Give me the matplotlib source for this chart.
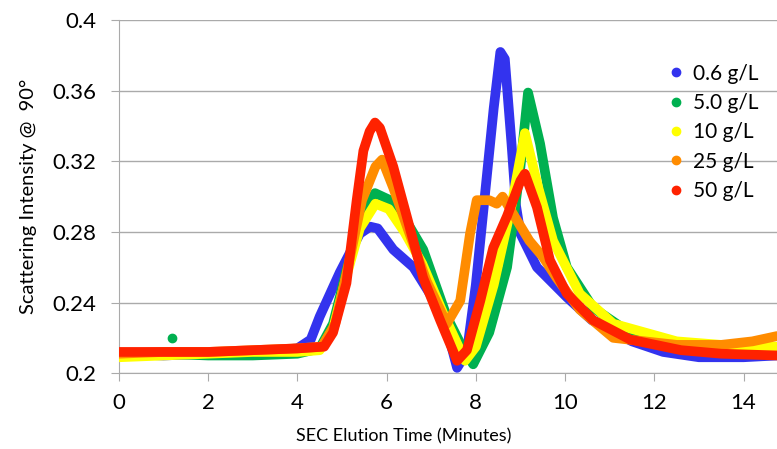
## Import Required Packages
import matplotlib
matplotlib.use('Agg')
import matplotlib.pyplot as plt

plt.rcParams['font.family'] = ['Lato', 'DejaVu Sans']

## Data (time in minutes, scattering intensity)
t_blue = [0, 1, 2, 3, 4.0, 4.3, 4.5, 4.95, 5.4, 5.63, 5.8, 6.15, 6.6, 6.97, 7.3, 7.58, 7.8, 8.0, 8.2, 8.4, 8.55, 8.65, 8.8, 8.9, 9.0, 9.37, 10.04, 10.6, 11.5, 12.2, 13, 14, 14.75]
i_blue = [0.211, 0.210, 0.211, 0.212, 0.214, 0.219, 0.232, 0.257, 0.279, 0.283, 0.282, 0.270, 0.260, 0.245, 0.230, 0.203, 0.212, 0.250, 0.300, 0.350, 0.382, 0.378, 0.330, 0.295, 0.279, 0.260, 0.243, 0.230, 0.218, 0.212, 0.209, 0.209, 0.210]

t_green = [0, 1, 2, 3, 4.0, 4.5, 4.8, 5.1, 5.4, 5.74, 6.08, 6.4, 6.82, 7.35, 7.65, 7.94, 8.3, 8.7, 9.0, 9.17, 9.44, 9.73, 10.04, 10.63, 11.5, 12.5, 13.5, 14.75]
i_green = [0.211, 0.211, 0.210, 0.210, 0.211, 0.214, 0.228, 0.258, 0.285, 0.302, 0.298, 0.288, 0.270, 0.232, 0.217, 0.205, 0.223, 0.260, 0.317, 0.359, 0.330, 0.288, 0.260, 0.237, 0.222, 0.216, 0.213, 0.212]

t_yellow = [0, 1, 2, 3, 4.0, 4.5, 4.8, 5.1, 5.4, 5.75, 6.05, 6.4, 6.8, 7.3, 7.76, 8.0, 8.4, 8.8, 9.1, 9.4, 9.73, 10.33, 11.08, 12.5, 13.5, 14.75]
i_yellow = [0.209, 0.210, 0.211, 0.212, 0.212, 0.213, 0.225, 0.255, 0.282, 0.296, 0.293, 0.280, 0.262, 0.232, 0.207, 0.215, 0.250, 0.295, 0.336, 0.305, 0.275, 0.245, 0.228, 0.218, 0.216, 0.215]

t_orange = [0, 1, 2, 3, 4.0, 4.55, 4.85, 5.15, 5.45, 5.75, 5.9, 6.15, 6.5, 6.9, 7.35, 7.65, 7.87, 8.02, 8.3, 8.47, 8.6, 8.84, 9.2, 9.5, 9.81, 10.33, 11.08, 12.5, 13.5, 14.2, 14.75]
i_orange = [0.211, 0.212, 0.212, 0.213, 0.214, 0.215, 0.228, 0.262, 0.298, 0.317, 0.321, 0.305, 0.280, 0.252, 0.228, 0.241, 0.279, 0.298, 0.298, 0.296, 0.300, 0.290, 0.275, 0.266, 0.254, 0.236, 0.220, 0.216, 0.216, 0.218, 0.221]

t_red = [0, 1, 2, 3, 4.0, 4.6, 4.8, 5.1, 5.33, 5.48, 5.62, 5.74, 5.85, 6.15, 6.45, 6.82, 7.2, 7.58, 7.8, 8.1, 8.39, 8.7, 9.0, 9.1, 9.37, 9.66, 10.04, 10.63, 11.46, 12.6, 13.5, 14.75]
i_red = [0.212, 0.212, 0.212, 0.213, 0.214, 0.215, 0.223, 0.251, 0.298, 0.326, 0.337, 0.342, 0.339, 0.317, 0.289, 0.254, 0.230, 0.207, 0.213, 0.241, 0.271, 0.289, 0.309, 0.313, 0.294, 0.264, 0.245, 0.230, 0.219, 0.213, 0.211, 0.210]

## Stray point in the 5.0 g/L run
t_green_out = [1.2]
i_green_out = [0.220]

series = [
    ('0.6 g/L', t_blue, i_blue, '#3333EE'),
    ('5.0 g/L', t_green, i_green, '#00B050'),
    ('10 g/L', t_yellow, i_yellow, '#FFFF00'),
    ('25 g/L', t_orange, i_orange, '#FF8C00'),
    ('50 g/L', t_red, i_red, '#FF2200'),
]

x_ticks = [0, 2, 4, 6, 8, 10, 12, 14]
y_ticks = [0.2, 0.24, 0.28, 0.32, 0.36, 0.4]
y_labels = ['0.2', '0.24', '0.28', '0.32', '0.36', '0.4']

## Figure
fig = plt.figure(figsize=(7.77, 4.49), dpi=100)
ax = fig.add_axes([0.153, 0.169, 0.847, 0.786])

for k, (lab, t, v, c) in enumerate(series):
    ax.plot(t, v, color=c, lw=7, solid_joinstyle='round', solid_capstyle='round', zorder=3 + k)
    ax.plot([], [], 'o', color=c, ms=6, label=lab)
ax.plot(t_green_out, i_green_out, 'o', color='#00B050', ms=6, zorder=3)

## Axes and grid
ax.set_xlim(0, 14.75)
ax.set_ylim(0.2, 0.4)
ax.set_xticks(x_ticks)
ax.set_yticks(y_ticks)
ax.set_yticklabels(y_labels)
ax.yaxis.grid(True, color='#AAAAAA', lw=1)
ax.set_axisbelow(True)
for s in ['top', 'right']:
    ax.spines[s].set_visible(False)
for s in ['left', 'bottom']:
    ax.spines[s].set_color('#AAAAAA')
ax.tick_params(axis='both', colors='#AAAAAA', labelcolor='black', length=6, labelsize=16)
ax.tick_params(axis='x', pad=8)
ax.tick_params(axis='y', pad=10)

ax.set_xlabel('SEC Elution Time (Minutes)', fontsize=13)
ax.xaxis.set_label_coords(0.432, -0.155)
ax.set_ylabel('Scattering Intensity @  90°', fontsize=14.5)
ax.yaxis.set_label_coords(-0.125, 0.5)

## Legend
leg = ax.legend(loc='upper right', bbox_to_anchor=(1.0, 0.93), frameon=False, fontsize=15,
                handlelength=0.6, handletextpad=0.5, labelspacing=0.45)

fig.savefig('out.png', dpi=100)
